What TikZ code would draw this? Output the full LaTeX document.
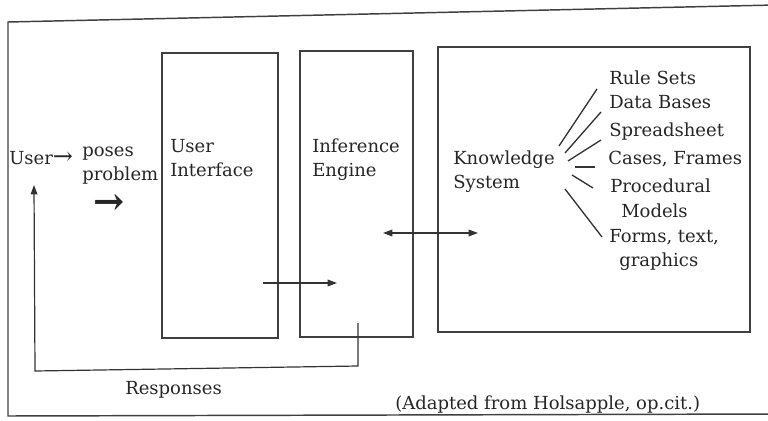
\documentclass[tikz,border=0pt]{standalone}
\usepackage{fontspec}
\setmainfont{DejaVu Serif}
\usetikzlibrary{arrows.meta}
\begin{document}
\begin{tikzpicture}[x=0.75pt,y=-0.75pt,
  frame/.style={draw=black!75,line width=1.1pt},
  box/.style={draw=black!75,line width=1.1pt},
  conn/.style={draw=black!80,line width=0.9pt},
  arr/.style={conn,-{Triangle[length=7pt,width=5pt]}},
  txt/.style={font=\fontsize{13.5}{16}\selectfont,text=black!85,inner sep=0pt,anchor=base west},
  ray/.style={draw=black!80,line width=1pt}]
\useasboundingbox (0,0) rectangle (768,421);
% outer frame (right side runs past the edge)
\draw[frame] (775,414) -- (8,416) -- (8,22) -- (775,5);
% the three blocks
\draw[box] (162,53) rectangle (278,338);
\draw[box] (300,51) rectangle (413,337);
\draw[box] (438,47) rectangle (750,332);
% labels
\node[txt] (user) at (9,164) {User{\fontsize{18}{18}\selectfont→}};
\node[txt] (poses) at (82,156) {poses};
\node[txt] (problem) at (82,180) {problem};
\node[txt,font=\fontsize{28}{28}\bfseries] (parr) at (93,214) {→};
\node[txt] (ui1) at (170,152) {User};
\node[txt] (ui2) at (170,176) {Interface};
\node[txt] (ie1) at (312,152) {Inference};
\node[txt] (ie2) at (312,176) {Engine};
\node[txt] (ks1) at (453,164) {Knowledge};
\node[txt] (ks2) at (453,188) {System};
\node[txt] (l1) at (609,84) {Rule Sets};
\node[txt] (l2) at (609,108) {Data Bases};
\node[txt] (l3) at (609,136) {Spreadsheet};
\node[txt] (l4) at (608,164) {Cases, Frames};
\node[txt] (l5) at (610,192) {Procedural};
\node[txt] (l5b) at (621,217) {Models};
\node[txt] (l6) at (609,242) {Forms, text,};
\node[txt] (l6b) at (619,266) {graphics};
\node[txt] (resp) at (125,394) {Responses};
\node[txt] (src) at (395,409) {(Adapted from Holsapple, op.cit.)};
% rays fanning out of the knowledge system
\coordinate (r1a) at (559,146); \coordinate (r1b) at (597,89);
\coordinate (r2a) at (565,153); \coordinate (r2b) at (601,112);
\coordinate (r3a) at (568,161); \coordinate (r3b) at (601,140);
\coordinate (r4a) at (575,167); \coordinate (r4b) at (595,167);
\coordinate (r5a) at (572,175); \coordinate (r5b) at (593,188);
\coordinate (r6a) at (565,189); \coordinate (r6b) at (602,237);
\draw[ray] (r1a) -- (r1b);
\draw[ray] (r2a) -- (r2b);
\draw[ray] (r3a) -- (r3b);
\draw[ray] (r4a) -- (r4b);
\draw[ray] (r5a) -- (r5b);
\draw[ray] (r6a) -- (r6b);
% flows between blocks
\coordinate (f1a) at (263,283); \coordinate (f1b) at (337,283);
\draw[arr] (f1a) -- (f1b);
\coordinate (f2a) at (383,233); \coordinate (f2b) at (478,233);
\draw[conn,{Triangle[length=7pt,width=5pt]}-{Triangle[length=7pt,width=5pt]}] (f2a) -- (f2b);
% response loop back to the user
\coordinate (rs) at (358,323);
\coordinate (rc1) at (358,366);
\coordinate (rc2) at (35,371);
\coordinate (rt) at (34,185);
\draw[arr] (rs) -- (rc1) -- (rc2) -- (rt);
\end{tikzpicture}
\end{document}
